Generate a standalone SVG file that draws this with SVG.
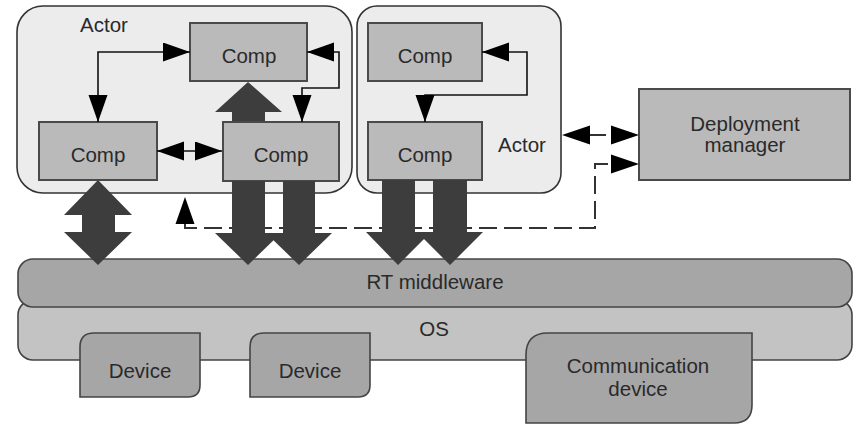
<svg xmlns="http://www.w3.org/2000/svg" width="855" height="424" viewBox="0 0 855 424">
  <style>
    text { font-family: "Liberation Sans", Arial, sans-serif; font-size: 20.5px; fill: #2a2a2a; text-anchor: middle; }
    .actor { fill: #ececec; stroke: #333; stroke-width: 1.6; }
    .comp { fill: #bababa; stroke: #4a4a4a; stroke-width: 2; }
    .mw { fill: #a6a6a6; stroke: #444; stroke-width: 1.6; }
    .os { fill: #c3c3c3; stroke: #444; stroke-width: 1.6; }
    .dev { fill: #a6a6a6; stroke: #444; stroke-width: 1.6; }
    .block { fill: #3d3d3d; }
    .link { fill: none; stroke: #111; stroke-width: 1.6; marker-start: url(#head); marker-end: url(#head); }
    .dash { fill: none; stroke: #333; stroke-width: 2; stroke-dasharray: 18 7; }
  </style>
  <defs>
    <marker id="head" markerUnits="userSpaceOnUse" markerWidth="28" markerHeight="20" refX="27" refY="9.5" orient="auto-start-reverse">
      <path d="M0,0 L27,9.5 L0,19 z" fill="#000"/>
    </marker>
  </defs>

  <!-- platform layers -->
  <g id="os">
    <rect class="os" x="18" y="300" width="834" height="60" rx="15"/>
    <text x="434" y="336">OS</text>
  </g>
  <g id="middleware">
    <rect class="mw" x="18" y="259" width="834" height="48" rx="15"/>
    <text x="435" y="289">RT middleware</text>
  </g>
  <g id="device1">
    <path class="dev" d="M80,347 Q80,333 94,333 H200 V385 Q200,397 188,397 H80 Z"/>
    <text x="140" y="378">Device</text>
  </g>
  <g id="device2">
    <path class="dev" d="M250,347 Q250,333 264,333 H370 V385 Q370,397 358,397 H250 Z"/>
    <text x="310" y="378">Device</text>
  </g>
  <g id="comm-device">
    <path class="dev" d="M526,355 Q526,333 548,333 H752 V405 Q752,423 734,423 H526 Z"/>
    <text x="638" y="373">Communication</text>
    <text x="638" y="396">device</text>
  </g>

  <!-- actors -->
  <g id="actor1">
    <rect class="actor" x="17" y="6" width="335" height="187" rx="26"/>
    <text x="104" y="32">Actor</text>
  </g>
  <g id="actor2">
    <rect class="actor" x="357" y="6" width="204" height="187" rx="20"/>
    <text x="522" y="152">Actor</text>
  </g>

  <!-- data flow arrow running under the components -->
  <g id="block-arrows-under">
    <polygon class="block" points="248,82 282,112 265,112 265,124 232,124 232,112 215,112"/>
  </g>

  <g id="comp-a1-top">
    <rect class="comp" x="190" y="23" width="117" height="58"/>
    <text x="249" y="63">Comp</text>
  </g>
  <g id="comp-a1-left">
    <rect class="comp" x="39" y="122" width="118" height="58"/>
    <text x="98" y="162">Comp</text>
  </g>
  <g id="comp-a1-right">
    <rect class="comp" x="223" y="122" width="116" height="59"/>
    <text x="281" y="162">Comp</text>
  </g>
  <g id="comp-a2-top">
    <rect class="comp" x="368" y="23" width="114" height="58"/>
    <text x="425" y="63">Comp</text>
  </g>
  <g id="comp-a2-bottom">
    <rect class="comp" x="368" y="122" width="114" height="58"/>
    <text x="425" y="162">Comp</text>
  </g>
  <g id="deployment-manager">
    <rect class="comp" x="639" y="89" width="211" height="91"/>
    <text x="745" y="131">Deployment</text>
    <text x="745" y="152">manager</text>
  </g>

  <!-- connectors -->
  <g id="connectors">
    <path class="dash" d="M185,222 V228 H595 V164 H612"/>
    <path class="dash" d="M588,135 H612"/>
    <path d="M185,197 L194.5,224 L175.5,224 Z" fill="#000"/>
    <path d="M639,164 L611,154.5 L611,173.5 Z" fill="#000"/>
    <path d="M562,135 L590,125.5 L590,144.5 Z" fill="#000"/>
    <path d="M639,135 L611,125.5 L611,144.5 Z" fill="#000"/>

    <path class="link" d="M190,52 H98 V122"/>
    <path class="link" d="M307,52 H339 V88 H302 V122"/>
    <path class="link" d="M482,52 H527 V95 H425 V122"/>
    <path class="link" d="M157,151 H222"/>

    <!-- block arrows to and from the middleware -->
    <polygon class="block" points="98,180 132,215 115,215 115,232 132,232 98,265 64,232 82,232 82,215 64,215"/>
    <polygon class="block" points="232,181 265,181 265,233 281,233 248,265 215,233 232,233"/>
    <polygon class="block" points="283,181 315,181 315,233 332,233 299,265 266,233 283,233"/>
    <polygon class="block" points="382,180 415,180 415,232 431,232 398,265 366,232 382,232"/>
    <polygon class="block" points="433,180 467,180 467,232 483,232 450,265 417,232 433,232"/>
  </g>
</svg>
